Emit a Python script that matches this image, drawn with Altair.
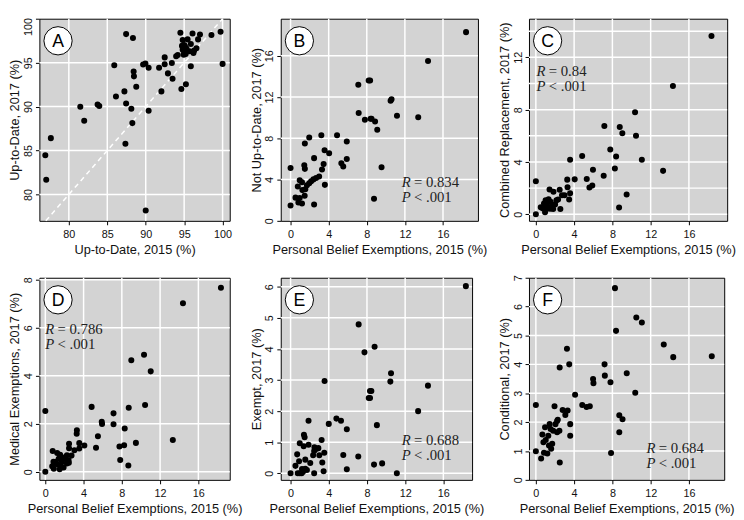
import altair as alt
import pandas as pd

# ---------------- data ----------------
# Panel A: Up-to-Date 2015 vs 2017
a_x = [76.94, 77.06, 77.66, 81.49, 82.0, 83.74, 83.96, 85.91, 86.13, 87.45, 88.34, 87.23, 87.45,
       88.43, 88.47, 88.77, 88.13, 88.26, 87.36, 90.0, 90.38, 89.66, 89.96, 90.38, 91.74, 92.04,
       92.47, 92.47, 92.89, 93.4, 93.49, 93.96, 94.17, 94.64, 94.51, 94.81, 94.72, 94.81, 95.23,
       95.87, 96.09, 95.45, 96.3, 96.21, 96.6, 95.87, 96.81, 97.06, 98.55, 99.74, 100.0,
       95.0, 95.1, 95.3, 95.0, 95.2, 94.95, 95.4, 95.7]
a_y = [84.47, 81.68, 86.41, 89.98, 88.38, 90.24, 90.06, 94.71, 91.14, 98.25, 97.8, 91.73, 90.35,
       94.0, 93.44, 92.25, 89.76, 88.12, 85.77, 78.17, 89.53, 94.79, 94.9, 94.41, 94.41, 91.73,
       95.6, 94.82, 93.78, 94.97, 93.18, 95.72, 95.87, 92.0, 98.4, 97.58, 96.91, 96.46, 92.55,
       97.13, 98.32, 97.65, 96.39, 96.09, 96.65, 94.6, 97.65, 98.21, 98.14, 98.51, 94.86,
       96.2, 96.9, 96.6, 97.0, 96.0, 95.9, 96.3, 96.3]
a_diag = [77, 100]

# Panel B: Not Up-to-Date 2017
b_x = [18.42, 14.43, 8.2, 8.35, 7.11, 10.6, 10.5, 7.15, 11.17, 13.4, 7.8, 8.4, 8.5, 8.87, 9.1, 9.55,
       8.76, 4.88, 3.23, 1.96, 1.5, 5.9, 3.57, 4.05, 2.47, 5.9, 5.33, 5.53, 3.47, 3.3, 0.0, 1.44,
       1.5, 3.6, 3.0, 2.68, 2.4, 2.16, 1.96, 1.72, 0.96, 1.2, 0.76, 1.55, 1.24, 0.52, 0.96, 1.48,
       0.82, 1.2, 0.0, 2.47]
b_y = [18.3, 15.5, 13.6, 13.6, 13.2, 11.8, 11.65, 10.45, 10.2, 10.04, 9.8, 9.9, 9.9, 9.63, 8.84, 5.2,
       2.15, 8.3, 8.3, 8.08, 7.5, 7.7, 6.84, 6.56, 6.08, 5.99, 5.58, 5.26, 5.5, 4.97, 5.13, 5.39,
       5.04, 3.49, 4.3, 4.15, 4.02, 3.83, 3.64, 3.45, 3.93, 3.74, 3.33, 3.07, 2.98, 2.25, 2.22, 2.44,
       1.77, 1.68, 1.49, 1.58]

# Panel C: Combined Replacement 2017
c_x = [18.36, 14.33, 10.37, 7.16, 8.77, 9.04, 10.47, 7.78, 8.39, 4.84, 3.58, 11.08, 5.97, 8.26, 13.3,
       7.09, 3.28, 4.06, 5.32, 3.31, 5.6, 5.9, 9.49, 8.7, 3.58, 3.48, 2.49, 1.84, 2.56, 0.0, 0.0,
       1.43, 2.73, 3.0, 2.32, 0.51, 0.85, 1.02, 1.13, 1.33, 1.54, 1.67, 1.81, 2.01, 0.96, 1.26, 0.75,
       2.15, 1.5, 1.19]
c_y = [13.63, 9.8, 7.8, 6.75, 6.68, 6.2, 6.0, 4.95, 4.42, 4.45, 4.17, 4.17, 3.4, 3.5, 3.32,
       2.95, 2.65, 2.67, 2.7, 2.07, 2.05, 2.2, 1.52, 0.52, 1.6, 1.13, 1.88, 1.72, 0.4, 2.53, 0.0,
       1.9, 1.45, 1.45, 1.13, 0.53, 0.83, 1.08, 0.63, 1.15, 0.95, 0.65, 0.4, 0.75, 0.15, 0.45, 0.45,
       1.08, 0.43, 1.0]

# Panel D: Medical Exemptions 2017
d_x = [18.36, 14.39, 10.32, 8.99, 11.02, 4.84, 10.43, 8.72, 7.13, 5.9, 5.93, 7.13, 0.0, 5.5, 8.3, 5.3,
       7.75, 8.24, 9.47, 13.33, 7.83, 8.68, 3.3, 3.28, 3.55, 3.55, 4.08, 2.48, 2.48, 3.04, 2.74,
       2.46, 0.0, 0.77, 1.24, 1.55, 2.26, 1.91, 1.4, 1.08, 1.74, 2.26, 0.72, 1.23, 1.57, 1.91, 0.89,
       2.43, 1.5, 0.85, 2.05]
d_y = [7.66, 7.02, 4.87, 4.64, 4.18, 2.7, 2.78, 2.66, 2.43, 2.08, 1.99, 1.98, 2.53, 1.48, 1.8, 1.0,
       1.05, 1.1, 1.2, 1.32, 0.49, 0.26, 1.73, 1.58, 1.19, 0.97, 1.09, 1.16, 0.98, 0.89, 0.67,
       0.37, 0.0, 0.86, 0.78, 0.7, 0.68, 0.54, 0.54, 0.41, 0.41, 0.34, 0.23, 0.31, 0.25, 0.18, 0.12,
       0.48, 0.1, 0.41, 0.6]

# Panel E: Exempt 2017
e_x = [18.36, 7.13, 8.8, 7.74, 10.52, 10.45, 3.56, 14.39, 8.32, 8.46, 8.19, 8.32, 13.36, 1.88, 4.8,
       5.28, 4.0, 9.04, 5.89, 1.4, 1.47, 3.25, 0.96, 1.37, 1.88, 2.5, 2.67, 2.91, 3.53, 3.01, 0.69,
       5.52, 7.09, 2.47, 2.36, 0.89, 1.54, 3.32, 0.51, 1.2, 1.54, 1.3, 0.75, 0.96, 1.16, 1.71, 2.47,
       3.46, 5.89, 8.74, 9.59, 11.13, 0.0, 2.06]
e_y = [6.02, 4.79, 4.07, 3.89, 3.22, 2.95, 2.97, 2.82, 2.65, 2.65, 2.42, 2.42, 2.0, 1.69, 1.76,
       1.69, 1.59, 1.55, 1.42, 1.24, 1.16, 1.07, 0.97, 0.87, 0.92, 0.84, 0.78, 0.81, 0.66, 0.58, 0.61,
       0.59, 0.54, 0.72, 0.58, 0.39, 0.44, 0.35, 0.24, 0.14, 0.15, 0.05, 0.0, 0.0, 0.0, 0.11, 0.0,
       0.07, 0.13, 0.28, 0.32, 0.0, 0.0, 0.33]

# Panel F: Conditional 2017
f_x = [18.39, 14.36, 13.37, 10.5, 11.08, 8.27, 8.38, 7.18, 7.21, 7.8, 9.5, 10.39, 5.98, 6.02, 2.49,
       3.49, 3.25, 4.1, 4.85, 5.3, 5.64, 0.0, 1.95, 2.8, 3.32, 3.08, 2.29, 3.59, 3.59, 8.72, 9.06,
       8.72, 7.86, 0.0, 2.5, 0.55, 0.96, 0.68, 1.03, 1.3, 1.44, 1.54, 1.81, 2.05, 2.22, 2.22, 2.46,
       1.37, 1.71, 1.2, 0.85, 1.6, 0.79]
f_y = [4.28, 4.25, 4.69, 5.62, 5.45, 6.64, 5.16, 4.0, 3.61, 3.38, 3.69, 3.02, 3.49, 3.35, 3.89,
       4.0, 4.54, 2.95, 2.59, 2.52, 2.55, 2.59, 2.55, 2.42, 2.4, 2.25, 2.08, 1.93, 1.53, 2.24, 2.1,
       1.65, 0.93, 0.99, 0.6, 0.74, 1.82, 1.57, 1.38, 1.53, 1.93, 1.76, 1.7, 1.93, 2.04, 1.65, 1.7,
       1.19, 1.25, 0.91, 0.94, 1.08, 1.3]

PBE = "Personal Belief Exemptions, 2015 (%)"
ticks_pbe = [0, 4, 8, 12, 16]

SANS = "Liberation Sans"
SERIF = "Liberation Serif"
ONE = alt.Data(values=[{}])


def panel(xs, ys, xdom, ydom, xticks, yticks, xgrid, ygrid, letter, xtitle, ytitle,
          w, h, stat=None, diag=None, top_label_shift=None):
    pts = pd.DataFrame({"x": xs, "y": ys})
    xsc = alt.Scale(domain=xdom, nice=False, zero=False)
    ysc = alt.Scale(domain=ydom, nice=False, zero=False)
    xax = alt.Axis(values=xticks, title=xtitle)
    if top_label_shift is not None:
        val, off = top_label_shift
        yax = alt.Axis(values=yticks, title=ytitle,
                       labelOffset={"condition": {"test": f"datum.value == {val}", "value": off},
                                    "value": 0})
    else:
        yax = alt.Axis(values=yticks, title=ytitle)
    layers = [
        alt.Chart(pd.DataFrame({"x": xgrid})).mark_rule(color="white", strokeWidth=1.5)
        .encode(x=alt.X("x:Q", scale=xsc, axis=xax)),
        alt.Chart(pd.DataFrame({"y": ygrid})).mark_rule(color="white", strokeWidth=1.5)
        .encode(y=alt.Y("y:Q", scale=ysc, axis=yax)),
    ]
    if diag is not None:
        layers.append(
            alt.Chart(pd.DataFrame({"x": diag, "y": diag}))
            .mark_line(color="white", strokeWidth=1.5, strokeDash=[5, 4])
            .encode(x=alt.X("x:Q", scale=xsc, axis=xax), y=alt.Y("y:Q", scale=ysc, axis=yax))
        )
    layers.append(
        alt.Chart(pts).mark_circle(size=38, color="black", opacity=1)
        .encode(x=alt.X("x:Q", scale=xsc, axis=xax), y=alt.Y("y:Q", scale=ysc, axis=yax))
    )
    layers.append(
        alt.Chart(ONE).mark_circle(size=830, color="white", stroke="black", strokeWidth=1, opacity=1)
        .encode(x=alt.value(19), y=alt.value(22.5))
    )
    layers.append(
        alt.Chart(ONE).mark_text(text=letter, font=SANS, fontSize=18, color="black",
                                 align="center", baseline="middle")
        .encode(x=alt.value(19), y=alt.value(23.5))
    )
    if stat is not None:
        rx, ry, rtxt = stat
        for ch, rest, yy in (("R", "= " + rtxt, ry), ("P", "< .001", ry + 15.5)):
            layers.append(
                alt.Chart(ONE).mark_text(text=ch, font=SERIF, fontStyle="italic", fontSize=15,
                                         color="#222", align="left", baseline="alphabetic")
                .encode(x=alt.value(rx), y=alt.value(yy))
            )
            layers.append(
                alt.Chart(ONE).mark_text(text=rest, font=SERIF, fontSize=15, color="#222",
                                         align="left", baseline="alphabetic")
                .encode(x=alt.value(rx + 12.5), y=alt.value(yy))
            )
    return alt.layer(*layers).properties(width=w, height=h)


pA = panel(a_x, a_y, [76.17, 100.93], [77.0, 100.0], [80, 85, 90, 95, 100], [80, 85, 90, 95, 100],
           [80, 85, 90, 95, 100], [80, 85, 90, 95], "A", "Up-to-Date, 2015 (%)",
           "Up-to-Date, 2017 (%)", 194, 206, diag=a_diag, top_label_shift=(100, 8))
pB = panel(b_x, b_y, [-1.03, 19.67], [0.0, 19.6], ticks_pbe, [0, 4, 8, 12, 16],
           ticks_pbe, [4, 8, 12, 16], "B", PBE, "Not Up-to-Date, 2017 (%)", 201, 206,
           stat=(123.3, 171.7, "0.834"))
pC = panel(c_x, c_y, [-0.72, 20.0], [-0.5, 14.95], ticks_pbe, [0, 4, 8, 12],
           ticks_pbe, [0, 2, 4, 6, 8, 10, 12, 14], "C", PBE, "Combined Replacement, 2017 (%)",
           202, 206, stat=(7.7, 58, "0.84"))
pD = panel(d_x, d_y, [-0.62, 19.28], [-0.34, 8.08], ticks_pbe, [0, 2, 4, 6, 8],
           ticks_pbe, [0, 2, 4, 6, 8], "D", PBE, "Medical Exemptions, 2017 (%)", 194, 206,
           stat=(6, 57, "0.786"))
pE = panel(e_x, e_y, [-1.03, 19.01], [-0.21, 6.29], ticks_pbe, [0, 1, 2, 3, 4, 5, 6],
           ticks_pbe, [0, 1, 2, 3, 4, 5, 6], "E", PBE, "Exempt, 2017 (%)", 195, 206,
           stat=(123.3, 170.3, "0.688"))
pF = panel(f_x, f_y, [-0.72, 19.69], [0.0, 7.0], ticks_pbe, [0, 1, 2, 3, 4, 5, 6, 7],
           ticks_pbe, [1, 2, 3, 4, 5, 6], "F", PBE, "Conditional, 2017 (%)", 199, 206,
           stat=(119.7, 178.7, "0.684"))

chart = (
    alt.concat(pA, pB, pC, pD, pE, pF, columns=3, spacing={"row": 58, "column": 52},
               bounds="flush", align="each")
    .properties(padding={"left": 0, "top": 2, "right": 0, "bottom": 0})
    .configure_view(fill="#d3d3d3", stroke="black", strokeWidth=1)
    .configure_axis(domain=False, grid=False, tickColor="black", tickSize=4, tickWidth=1,
                    labelFont=SANS, labelFontSize=11, labelColor="#111",
                    titleFont=SANS, titleFontSize=13, titleFontWeight="normal", titleColor="#111",
                    labelFlush=False, labelOverlap=False)
    .configure_axisLeft(labelAngle=270, labelAlign="center", labelBaseline="bottom",
                        labelPadding=2, titlePadding=1)
    .configure_axisBottom(labelPadding=4, titlePadding=4)
)

chart.save("out.html", embed_options={"renderer": "svg", "actions": False})
